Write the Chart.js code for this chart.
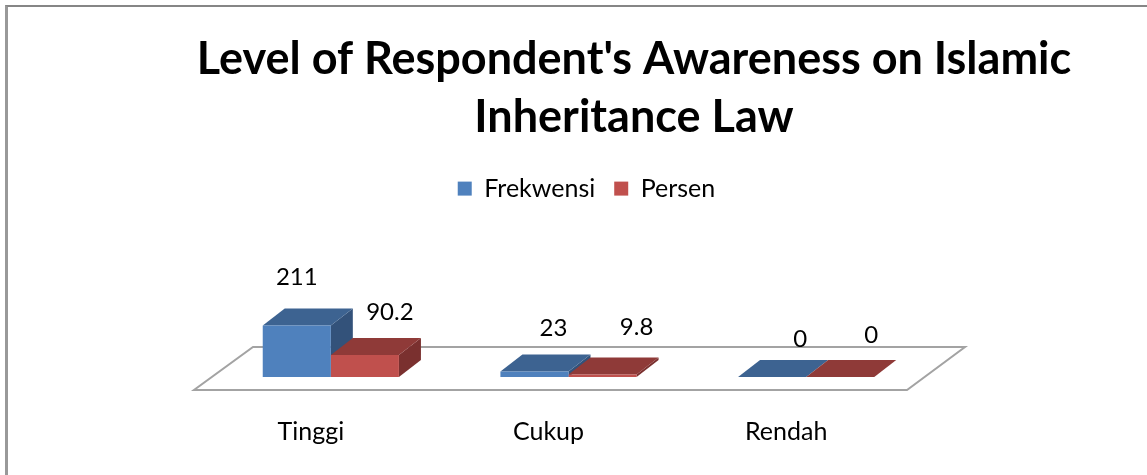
<!DOCTYPE html>
<html>
<head>
<meta charset="utf-8">
<style>
  html, body { margin: 0; padding: 0; background: #fff; overflow: hidden; }
  #wrap { position: relative; width: 1147px; height: 475px; }
  #frame { position: absolute; left: 5px; top: 5px; right: 0; bottom: 0; border-left: 3px solid #999; border-top: 2px solid #868686; }
  canvas { position: absolute; left: 0; top: 0; }
</style>
<script src="https://cdn.jsdelivr.net/npm/chart.js@4"></script>
</head>
<body>
<div id="wrap">
  <div id="frame"></div>
  <canvas id="grafico" width="1147" height="475"></canvas>
</div>
<script>
const categorias = ['Tinggi', 'Cukup', 'Rendah'];
const frekwensi = [211, 23, 0];
const persen = [90.2, 9.8, 0];
const rotulosFrekwensi = ['211', '23', '0'];
const rotulosPersen = ['90.2', '9.8', '0'];
const tituloLinhas = ["Level of Respondent's Awareness on Islamic", 'Inheritance Law'];

const fonte = 'Lato';
const DX = 22, DY = 17;

function poligono(ctx, pts, cor) {
  ctx.fillStyle = cor;
  ctx.beginPath();
  pts.forEach((p, i) => i ? ctx.lineTo(p[0], p[1]) : ctx.moveTo(p[0], p[1]));
  ctx.closePath();
  ctx.fill();
}

// piso, faces de cima e lateral ficam atras das barras
const efeito3d = {
  id: 'efeito3d',
  afterLayout(chart) {
    // titulo e legenda nao ficam centrados na area do grafico
    chart.titleBlock.left = 134; chart.titleBlock.right = 1134;
    chart.legend.left += 18; chart.legend.right += 18;
  },
  beforeDatasetsDraw(chart) {
    const { ctx, chartArea: a } = chart;
    ctx.save();
    ctx.strokeStyle = '#a3a3a3';
    ctx.lineWidth = 2;
    ctx.beginPath();
    ctx.moveTo(a.left - 18, a.bottom + 13);
    ctx.lineTo(a.right - 18, a.bottom + 13);
    ctx.lineTo(a.right + 40, a.bottom - 30);
    ctx.lineTo(a.left + 41, a.bottom - 30);
    ctx.closePath();
    ctx.stroke();
    const cores = [['#3d6391', '#33527a'], ['#8f3a38', '#7a302f']];
    chart.data.datasets.forEach((d, i) => {
      chart.getDatasetMeta(i).data.forEach(b => {
        const e = b.x - b.width / 2, r = b.x + b.width / 2, t = b.y, base = b.base;
        poligono(ctx, [[r, t], [r + DX, t - DY], [r + DX, base - DY], [r, base]], cores[i][1]);
        poligono(ctx, [[e, t], [r, t], [r + DX, t - DY], [e + DX, t - DY]], cores[i][0]);
      });
    });
    ctx.restore();
  },
  afterDatasetsDraw(chart) {
    const { ctx } = chart;
    // deslocamento de cada rotulo em relacao ao topo da barra
    const desloc = [
      [[0, -48], [19, -43], [28, -38]],
      [[25, -43], [34, -47], [31, -42]]
    ];
    const rotulos = [rotulosFrekwensi, rotulosPersen];
    ctx.save();
    ctx.font = '24px ' + fonte;
    ctx.fillStyle = '#000';
    ctx.textAlign = 'center';
    ctx.textBaseline = 'middle';
    chart.data.datasets.forEach((d, i) => {
      chart.getDatasetMeta(i).data.forEach((b, j) => {
        ctx.fillText(rotulos[i][j], b.x + desloc[i][j][0], b.y + desloc[i][j][1]);
      });
    });
    ctx.restore();
  }
};

new Chart(document.getElementById('grafico').getContext('2d'), {
  type: 'bar',
  data: {
    labels: categorias,
    datasets: [
      { label: 'Frekwensi', data: frekwensi, backgroundColor: '#4f81bd' },
      { label: 'Persen', data: persen, backgroundColor: '#c0504d' }
    ]
  },
  options: {
    responsive: false,
    animation: false,
    categoryPercentage: 0.573,
    barPercentage: 1,
    layout: { padding: { left: 212, right: 222, top: 30, bottom: 30 } },
    scales: {
      x: {
        grid: { display: false, drawTicks: false },
        border: { display: false },
        ticks: { color: '#000', font: { family: fonte, size: 25 }, padding: 40, labelOffset: -20 },
        afterFit(s) { s.height = 68; }
      },
      y: { display: false, min: 0, max: 680 }
    },
    plugins: {
      title: {
        display: true,
        text: tituloLinhas,
        color: '#000',
        font: { family: fonte, size: 45, weight: 'bold', lineHeight: 1.29 },
        padding: { top: 0, bottom: 11 }
      },
      legend: {
        display: true,
        labels: { color: '#000', font: { family: fonte, size: 25 }, boxWidth: 14, boxHeight: 14, padding: 19 }
      },
      tooltip: { enabled: false }
    }
  },
  plugins: [efeito3d]
});
</script>
</body>
</html>
